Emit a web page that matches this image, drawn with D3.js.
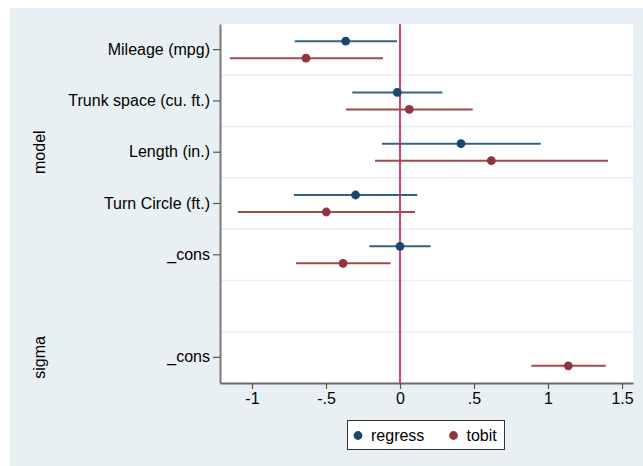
<!DOCTYPE html>
<html>
<head>
<meta charset="utf-8">
<script src="https://cdn.jsdelivr.net/npm/d3@7"></script>
<style>
  html, body { margin: 0; padding: 0; background: #ffffff; }
  svg { display: block; font-family: "Liberation Sans", Arial, Helvetica, sans-serif; }
</style>
</head>
<body>
<svg id="chart" width="643" height="466"></svg>
<script>
// Coefficient rows, top to bottom ("" is the spacer between equations)
const rows = ["Mileage (mpg)", "Trunk space (cu. ft.)", "Length (in.)", "Turn Circle (ft.)", "_cons", "", "sigma:_cons"];
const rowLabels = ["Mileage (mpg)", "Trunk space (cu. ft.)", "Length (in.)", "Turn Circle (ft.)", "_cons", "", "_cons"];

// Equation groups shown on the far left
const groups = ["model", "sigma"];
const groupRows = [["Mileage (mpg)", "_cons"], ["sigma:_cons", "sigma:_cons"]];

// regress estimates
const regressTerms = ["Mileage (mpg)", "Trunk space (cu. ft.)", "Length (in.)", "Turn Circle (ft.)", "_cons"];
const regressB  = [-0.367, -0.018, 0.412, -0.300, 0.000];
const regressLo = [-0.711, -0.322, -0.122, -0.716, -0.207];
const regressHi = [-0.020, 0.286, 0.951, 0.117, 0.207];

// tobit estimates
const tobitTerms = ["Mileage (mpg)", "Trunk space (cu. ft.)", "Length (in.)", "Turn Circle (ft.)", "_cons", "sigma:_cons"];
const tobitB  = [-0.635, 0.063, 0.617, -0.498, -0.385, 1.137];
const tobitLo = [-1.149, -0.365, -0.169, -1.095, -0.703, 0.887];
const tobitHi = [-0.115, 0.491, 1.405, 0.101, -0.063, 1.390];

const xTicks = [-1, -0.5, 0, 0.5, 1, 1.5];
const xTickLabels = ["-1", "-.5", "0", ".5", "1", "1.5"];

const seriesNames = ["regress", "tobit"];
const seriesColors = ["#1a476f", "#90353b"];
const seriesLine = ["#34608a", "#a04a52"];

const FONT = "16px";

const svg = d3.select("#chart");
const W = 643, H = 466;
const plot = { left: 220, top: 24, right: 633, bottom: 383 };

// graph region
svg.append("rect").attr("x", 10).attr("y", 8).attr("width", W - 10).attr("height", H - 8)
  .attr("fill", "#e9f0f3");
svg.append("rect").attr("x", plot.left).attr("y", plot.top)
  .attr("width", plot.right - plot.left).attr("height", plot.bottom - plot.top)
  .attr("fill", "#ffffff");

const x = d3.scaleLinear().domain([-1.216, 1.574]).range([plot.left, plot.right]);
const y = d3.scaleBand().domain(rows).range([plot.top, plot.bottom]);
const offset = d3.scalePoint().domain(seriesNames).range([-8.5, 8.5]);

// row separators
const seps = rows.slice(1).map(r => y(r));
svg.append("g").selectAll("line").data(seps).join("line")
  .attr("x1", plot.left).attr("x2", plot.right)
  .attr("y1", d => d).attr("y2", d => d)
  .attr("stroke", "#eaf0f3").attr("stroke-width", 1.6);

// reference line at zero
svg.append("line")
  .attr("x1", x(0)).attr("x2", x(0)).attr("y1", plot.top).attr("y2", plot.bottom)
  .attr("stroke", "#da4168").attr("stroke-width", 2);

// series
const series = [
  { name: "regress", terms: regressTerms, b: regressB, lo: regressLo, hi: regressHi },
  { name: "tobit", terms: tobitTerms, b: tobitB, lo: tobitLo, hi: tobitHi }
];
series.forEach((s, si) => {
  const data = s.terms.map((t, i) => ({ t, b: s.b[i], lo: s.lo[i], hi: s.hi[i] }));
  const cy = d => y(d.t) + y.bandwidth() / 2 + offset(s.name);
  const g = svg.append("g");
  g.selectAll("line").data(data).join("line")
    .attr("x1", d => x(d.lo)).attr("x2", d => x(d.hi))
    .attr("y1", cy).attr("y2", cy)
    .attr("stroke", seriesLine[si]).attr("stroke-width", 2);
  g.selectAll("circle").data(data).join("circle")
    .attr("cx", d => x(d.b)).attr("cy", cy).attr("r", 4.4)
    .attr("fill", seriesColors[si]);
});

// x axis
const xAxis = d3.axisBottom(x).tickValues(xTicks)
  .tickFormat((d, i) => xTickLabels[i]).tickSize(6).tickPadding(4).tickSizeOuter(0);
const gx = svg.append("g").attr("transform", `translate(0,${plot.bottom})`).call(xAxis);
gx.select(".domain").attr("stroke", "#6b6b6b").attr("stroke-width", 2);
gx.selectAll(".tick line").attr("stroke", "#555").attr("stroke-width", 1.2);
gx.selectAll(".tick text").attr("fill", "#000").style("font-size", FONT)
  .style("font-family", "'Liberation Sans', Arial, sans-serif");

// y axis
const yAxis = d3.axisLeft(y).tickValues(rows.filter(r => r !== ""))
  .tickFormat(r => rowLabels[rows.indexOf(r)]).tickSize(7).tickPadding(3).tickSizeOuter(0);
const gy = svg.append("g").attr("transform", `translate(${plot.left},0)`).call(yAxis);
gy.select(".domain").attr("stroke", "#7a7a7a").attr("stroke-width", 2);
gy.selectAll(".tick line").attr("stroke", "#555").attr("stroke-width", 1.2);
gy.selectAll(".tick text").attr("fill", "#000").style("font-size", FONT)
  .style("font-family", "'Liberation Sans', Arial, sans-serif");

// equation labels
groups.forEach((gname, i) => {
  const top = y(groupRows[i][0]);
  const bottom = y(groupRows[i][1]) + y.bandwidth();
  const cy = (top + bottom) / 2;
  svg.append("text")
    .attr("transform", `translate(45,${cy}) rotate(-90)`)
    .attr("text-anchor", "middle")
    .style("font-size", FONT).attr("fill", "#000")
    .text(gname);
});

// legend
const lg = svg.append("g");
lg.append("rect").attr("x", 347.5).attr("y", 420.5).attr("width", 157).attr("height", 29)
  .attr("fill", "#fff").attr("stroke", "#333").attr("stroke-width", 1);
const legX = [358, 453.5];
seriesNames.forEach((n, i) => {
  lg.append("circle").attr("cx", legX[i]).attr("cy", 435.5).attr("r", 4.4).attr("fill", seriesColors[i]);
  lg.append("text").attr("x", legX[i] + 13).attr("y", 435.5).attr("dy", "0.35em")
    .style("font-size", FONT).attr("fill", "#000").text(n);
});
</script>
</body>
</html>
